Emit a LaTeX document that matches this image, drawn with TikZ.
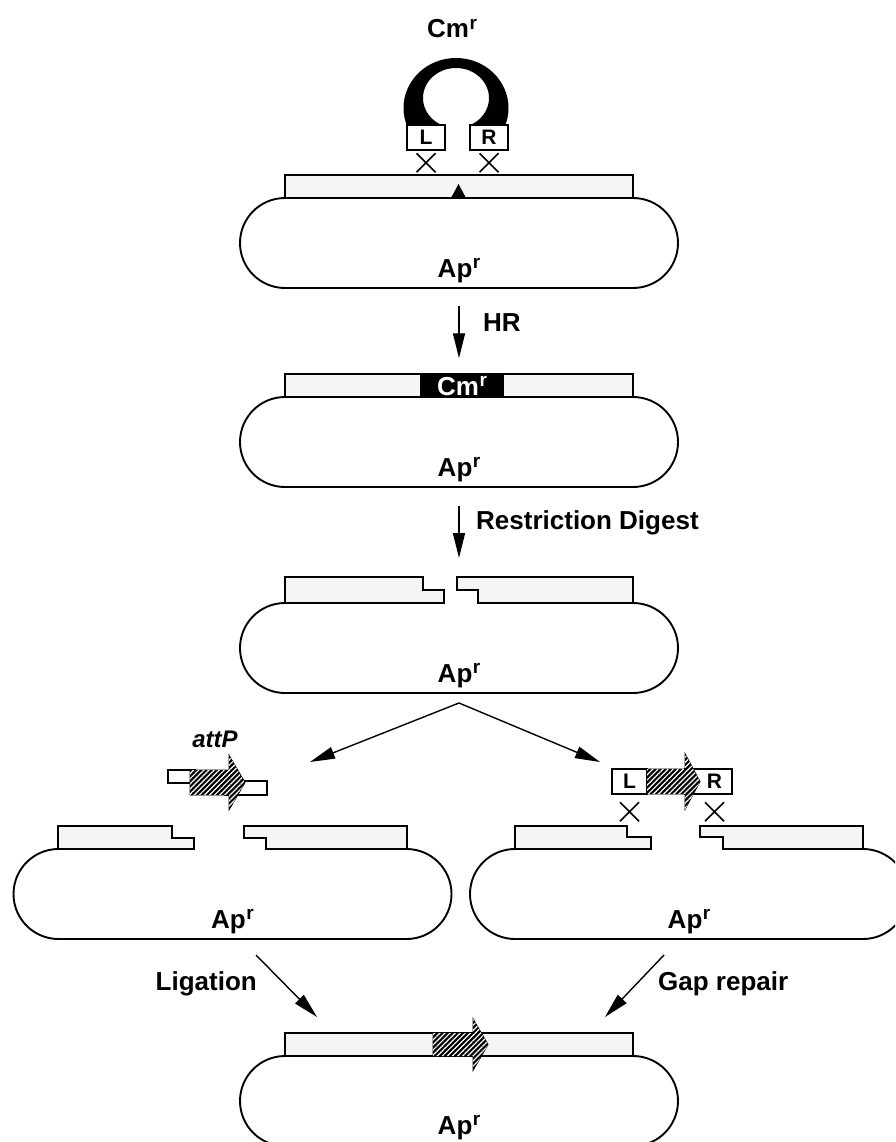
\documentclass[tikz,border=0pt]{standalone}
\usepackage{fontspec}
\setmainfont{Liberation Sans}
\usetikzlibrary{shapes.misc,arrows.meta,patterns.meta}

% resistance marker with a large raised r
\newcommand\res[1]{#1\kern0.5pt\raisebox{0.34em}{\fontsize{19}{19}\selectfont r}}
% hatched gene arrow: start x, head base x, tip x, centre y, half body height, half head height
\newcommand\genearrow[6]{%
  \path[hatched] (#1,#4-#5) -- (#2,#4-#5) -- (#2,#4-#6) -- (#3,#4) -- (#2,#4+#6)
    -- (#2,#4+#5) -- (#1,#4+#5) -- cycle;}
% crossover mark centred on a point
\newcommand\crossover[1]{%
  \draw[xline] (#1) ++(-9.5,-9.5) -- ++(19,19) (#1) ++(-9.5,9.5) -- ++(19,-19);}

\tikzset{
  plasmid/.style={draw, line width=1.9pt, fill=white, rounded rectangle,
    minimum width=438pt, minimum height=90pt, inner sep=0pt},
  fragment/.style={draw, line width=1.5pt, fill=black!4, line join=miter},
  wholebar/.style={fragment, minimum width=348pt, minimum height=23pt, inner sep=0pt},
  big/.style={font=\fontsize{26}{30}\selectfont\bfseries, inner sep=0pt},
  flow/.style={line width=1.4pt, -{Triangle[length=25pt,width=12pt]}},
  armbox/.style={draw, line width=1.5pt, fill=white, minimum height=25pt,
    inner sep=0pt, font=\fontsize{21}{24}\selectfont\bfseries},
  xline/.style={line width=1.5pt},
  hatched/.style={fill=black, draw=black, line width=0.8pt,
    postaction={pattern={Lines[angle=45,distance=3.6pt,line width=1.2pt]}, pattern color=white}},
}

\begin{document}
\begin{tikzpicture}[x=1pt,y=-1pt]
\useasboundingbox (0,0) rectangle (895,1142);
\clip (0,0) rectangle (895,1142);

% ---------- step 1: targeting cassette and target plasmid ----------
\node[plasmid] (p1) at (459,243) {};
\node[wholebar] (b1) at (459,186.5) {};
\fill (451,198) -- (458.5,184) -- (466,198) -- cycle;
\node[big, anchor=base] (a1) at (459,277) {\res{Ap}};

\begin{scope}
  \clip (380,0) rectangle (540,125);
  \fill[even odd rule] (456,108) ellipse[x radius=52.5, y radius=50]
                       (456,98) ellipse[x radius=33, y radius=30];
\end{scope}
\node[armbox, minimum width=38pt] (L1) at (426,137.5) {L};
\node[armbox, minimum width=38pt] (R1) at (489,137.5) {R};
\crossover{[yshift=-12pt]L1.south}
\crossover{[yshift=-12pt]R1.south}
\node[big, anchor=base] (cm1) at (452,38) {\res{Cm}};

% ---------- step 2: recombinant ----------
\node[plasmid] (p2) at (459,442) {};
\node[wholebar] (b2) at (459,385.5) {};
\fill[black] (420,374) rectangle (504,397);
\node[big, text=white, anchor=base] (cm2) at (462,395) {\res{Cm}};
\node[big, anchor=base] (a2) at (459,476) {\res{Ap}};

\draw[flow] ([yshift=-17pt]p1.south) -- ([yshift=15pt]b2.north);
\node[big, anchor=base west] (hr) at (483,331) {HR};

% ---------- step 3: digested plasmid ----------
\node[plasmid] (p3) at (459,648) {};
\fill[white] (444,598) rectangle (478,608);
\path[fragment] (285,577) -- (423,577) -- (423,590) -- (444,590) -- (444,603) -- (285,603) -- cycle;
\path[fragment] (457,577) -- (633,577) -- (633,603) -- (478,603) -- (478,590) -- (457,590) -- cycle;
\node[big, anchor=base] (a3) at (459,682) {\res{Ap}};
\coordinate (cut3) at (459,577);

\draw[flow] ([yshift=-18pt]p2.south) -- ([yshift=19pt]cut3);
\node[big, anchor=base west] (rd) at (476,529) {Restriction Digest};

% ---------- branch ----------
\coordinate (apex) at (459,703);
\coordinate (tipL) at (310,762);
\coordinate (tipR) at (600,762);
\draw[flow] (apex) -- (tipL);
\draw[flow] (apex) -- (tipR);

% ---------- step 4a: ligation of attP fragment ----------
\node[plasmid] (p4l) at (232.5,894) {};
\fill[white] (194,844) rectangle (266,854);
\path[fragment] (58,826) -- (172,826) -- (172,838) -- (194,838) -- (194,849) -- (58,849) -- cycle;
\path[fragment] (244,826) -- (407,826) -- (407,849) -- (266,849) -- (266,838) -- (244,838) -- cycle;
\node[big, anchor=base] (a4l) at (232.5,928) {\res{Ap}};

\draw[line width=1.5pt, fill=white] (168,770) rectangle (195,783);
\draw[line width=1.5pt, fill=white] (225,781) rectangle (267,795);
\genearrow{190}{229}{245}{782.5}{12.5}{27.5}
\node[big, font=\fontsize{24}{28}\selectfont\bfseries\itshape, anchor=base] (attp) at (215,747) {attP};

% ---------- step 4b: gap repair with flanked fragment ----------
\node[plasmid] (p4r) at (689,894) {};
\fill[white] (651,844) rectangle (723,854);
\path[fragment] (515,826) -- (627,826) -- (627,837) -- (651,837) -- (651,849) -- (515,849) -- cycle;
\path[fragment] (700,826) -- (863,826) -- (863,849) -- (723,849) -- (723,837) -- (700,837) -- cycle;
\node[big, anchor=base] (a4r) at (689,928) {\res{Ap}};

\node[armbox, minimum width=47pt] (R4) at (708.5,781.5) {\hspace*{12pt}R};
\node[armbox, minimum width=35pt] (L4) at (629.5,781.5) {L};
\genearrow{647}{685}{700}{781.5}{12.5}{28}
\crossover{[yshift=-17pt]L4.south}
\crossover{[xshift=6pt,yshift=-17pt]R4.south}

% ---------- step 5: final construct ----------
\node[plasmid] (p5) at (459,1101) {};
\node[wholebar] (b5) at (459,1044.5) {};
\genearrow{433}{473}{488}{1044.5}{11.5}{26}
\node[big, anchor=base] (a5) at (459,1134) {\res{Ap}};

\coordinate (ligS) at (256,955);
\coordinate (ligE) at (317,1017);
\coordinate (gapS) at (664,955);
\coordinate (gapE) at (605,1017);
\draw[flow] (ligS) -- (ligE);
\draw[flow] (gapS) -- (gapE);
\node[big, anchor=base east] (lig) at (257,990) {Ligation};
\node[big, anchor=base west] (gap) at (658,990) {Gap repair};
\end{tikzpicture}
\end{document}
